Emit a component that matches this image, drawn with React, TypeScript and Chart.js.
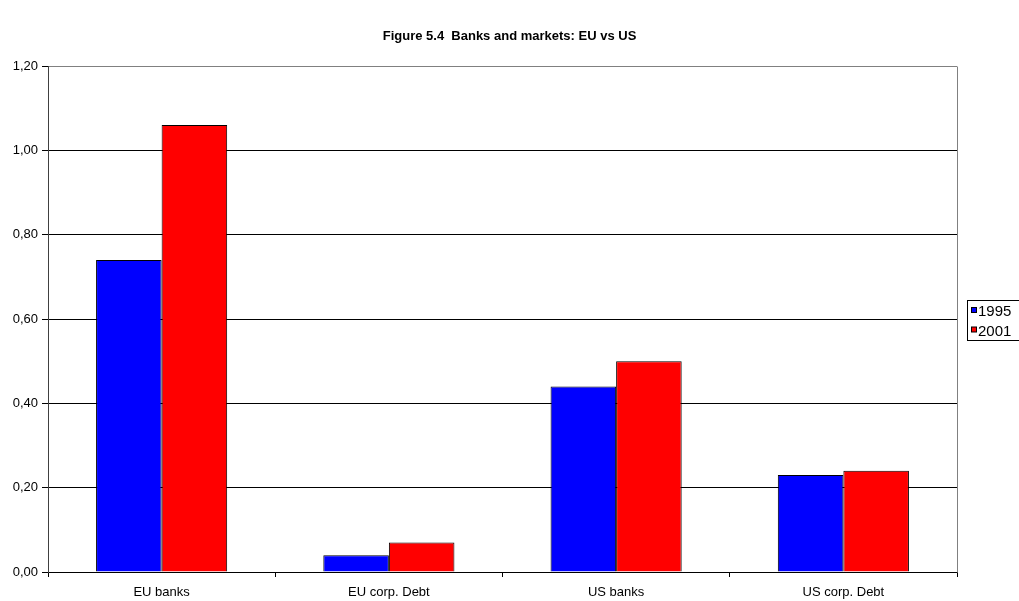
import React, { useEffect, useRef } from "react";
import { Chart, registerables } from "chart.js";

Chart.register(...registerables);

const categories = ["EU banks", "EU corp. Debt", "US banks", "US corp. Debt"];
const series1995 = [0.74, 0.04, 0.44, 0.23];
const series2001 = [1.06, 0.07, 0.5, 0.24];
const seriesLabels = ["1995", "2001"];
const yTicks = { min: 0, max: 1.2, step: 0.2 };
const titleText = "Figure 5.4  Banks and markets: EU vs US";

const FONT = "'Liberation Sans', Arial, sans-serif";

const framePlugin = {
  id: "frame",
  afterDraw(chart: any) {
    const { ctx, chartArea } = chart;
    ctx.save();
    ctx.strokeStyle = "#808080";
    ctx.lineWidth = 1;
    ctx.beginPath();
    const r = Math.round(chartArea.right) + 0.5;
    ctx.moveTo(r, Math.round(chartArea.top) + 0.5);
    ctx.lineTo(r, Math.round(chartArea.bottom) + 0.5);
    ctx.stroke();
    ctx.restore();
  },
};

const boxLegendPlugin = {
  id: "boxLegend",
  afterDraw(chart: any) {
    const { ctx } = chart;
    const ds = chart.data.datasets;
    const x0 = 967.5;
    const y0 = 300.5;
    const rowH = 19.5;
    ctx.save();
    ctx.strokeStyle = "#000000";
    ctx.lineWidth = 1;
    ctx.strokeRect(x0, y0, 70, 40);
    ctx.font = `15px ${FONT}`;
    ctx.textBaseline = "middle";
    ctx.textAlign = "left";
    ds.forEach((d: any, i: number) => {
      const cy = y0 + 11 + i * rowH;
      ctx.fillStyle = d.backgroundColor;
      ctx.fillRect(x0 + 4, cy - 4, 5, 5);
      ctx.strokeStyle = "#000000";
      ctx.strokeRect(x0 + 4, cy - 4, 5, 5);
      ctx.fillStyle = "#000000";
      ctx.fillText(d.label, x0 + 10.5, cy + 0.5);
    });
    ctx.restore();
  },
};

export default function App() {
  const ref = useRef<HTMLCanvasElement>(null);
  useEffect(() => {
    if (!ref.current) return;
    const chart = new Chart(ref.current, {
      type: "bar",
      data: {
        labels: categories,
        datasets: [
          {
            label: seriesLabels[0],
            data: series1995,
            backgroundColor: "#0000FF",
            borderColor: "#000000",
            borderWidth: 1,
            categoryPercentage: 0.577,
            barPercentage: 1,
          },
          {
            label: seriesLabels[1],
            data: series2001,
            backgroundColor: "#FF0000",
            borderColor: "#000000",
            borderWidth: 1,
            categoryPercentage: 0.577,
            barPercentage: 1,
          },
        ],
      },
      options: {
        animation: false,
        responsive: false,
        maintainAspectRatio: false,
        layout: { padding: { left: 0, right: 0, top: 0, bottom: 0 } },
        plugins: {
          legend: { display: false },
          tooltip: { enabled: false },
          title: {
            display: true,
            text: titleText,
            color: "#000000",
            font: { family: FONT, size: 13, weight: "bold" },
            padding: { top: 28.5, bottom: 21.9 },
          },
        },
        scales: {
          x: {
            afterFit: (s: any) => {
              s.height = 29;
            },
            grid: {
              offset: true,
              drawOnChartArea: false,
              drawTicks: true,
              tickLength: 5,
              color: "#000000",
            },
            border: { display: true, color: "#000000" },
            ticks: {
              color: "#000000",
              font: { family: FONT, size: 13 },
              padding: 8,
              maxRotation: 0,
            },
          },
          y: {
            min: yTicks.min,
            max: yTicks.max,
            afterFit: (s: any) => {
              s.width = 48;
            },
            grid: {
              color: (c: any) =>
                c.tick && Math.abs(c.tick.value - yTicks.max) < 1e-6 ? "#808080" : "#000000",
              tickColor: "#000000",
              tickLength: 6,
            },
            border: { display: true, color: "#404040" },
            ticks: {
              stepSize: yTicks.step,
              color: "#000000",
              font: { family: FONT, size: 13 },
              padding: 4,
              callback: (v: any) => Number(v).toFixed(2).replace(".", ","),
            },
          },
          spacer: {
            type: "linear",
            position: "right",
            display: true,
            afterFit: (s: any) => {
              s.width = 62;
            },
            grid: { display: false, drawTicks: false },
            border: { display: false },
            ticks: { display: false },
          },
        },
      },
      plugins: [framePlugin, boxLegendPlugin],
    });
    return () => chart.destroy();
  }, []);
  return (
    <div style={{ position: "fixed", left: 0, top: 0, width: 1019, height: 601, background: "#fff" }}>
      <canvas ref={ref} width={1019} height={601} style={{ display: "block" }} />
    </div>
  );
}
